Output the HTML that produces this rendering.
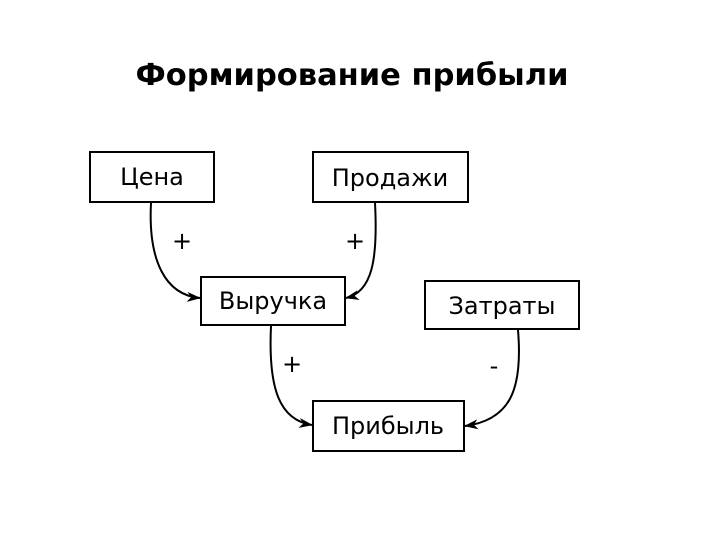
<!DOCTYPE html>
<html><head><meta charset="utf-8"><style>
html,body{margin:0;padding:0;background:#fff;}
svg{display:block;}
text{font-family:"DejaVu Sans","Liberation Sans",sans-serif;fill:#000;}
</style></head><body>
<svg width="720" height="540" viewBox="0 0 720 540" xmlns="http://www.w3.org/2000/svg">
<defs>
<marker id="a" markerWidth="14" markerHeight="10" refX="13" refY="5" orient="auto" markerUnits="userSpaceOnUse">
<path d="M0,0 L14,5 L0,10 L4,5 Z" fill="#000"/>
</marker>
</defs>
<text x="352" y="85" text-anchor="middle" font-size="30" font-weight="bold" textLength="433" lengthAdjust="spacingAndGlyphs">Формирование прибыли</text>
<g fill="none" stroke="#000" stroke-width="2">
<rect x="90" y="152" width="124" height="50"/>
<rect x="313" y="152" width="155" height="50"/>
<rect x="201" y="277" width="144" height="48"/>
<rect x="425" y="281" width="154" height="48"/>
<rect x="313" y="401" width="151" height="50"/>
<path d="M151,203 C148,260 165,295 200,298" marker-end="url(#a)"/>
<path d="M375,203 C378,260 372,292 346,298" marker-end="url(#a)"/>
<path d="M271,326 C268,390 280,420 312,425" marker-end="url(#a)"/>
<path d="M518,330 C523,390 510,420 465,426" marker-end="url(#a)"/>
</g>
<g font-size="24">
<text x="152" y="185" text-anchor="middle">Цена</text>
<text x="390" y="186" text-anchor="middle">Продажи</text>
<text x="273" y="309" text-anchor="middle">Выручка</text>
<text x="502" y="314" text-anchor="middle">Затраты</text>
<text x="388" y="434" text-anchor="middle">Прибыль</text>
<text x="182" y="249" text-anchor="middle">+</text>
<text x="355" y="249" text-anchor="middle">+</text>
<text x="292" y="372" text-anchor="middle">+</text>
<text x="494" y="374" text-anchor="middle">-</text>
</g>
</svg>
</body></html>
